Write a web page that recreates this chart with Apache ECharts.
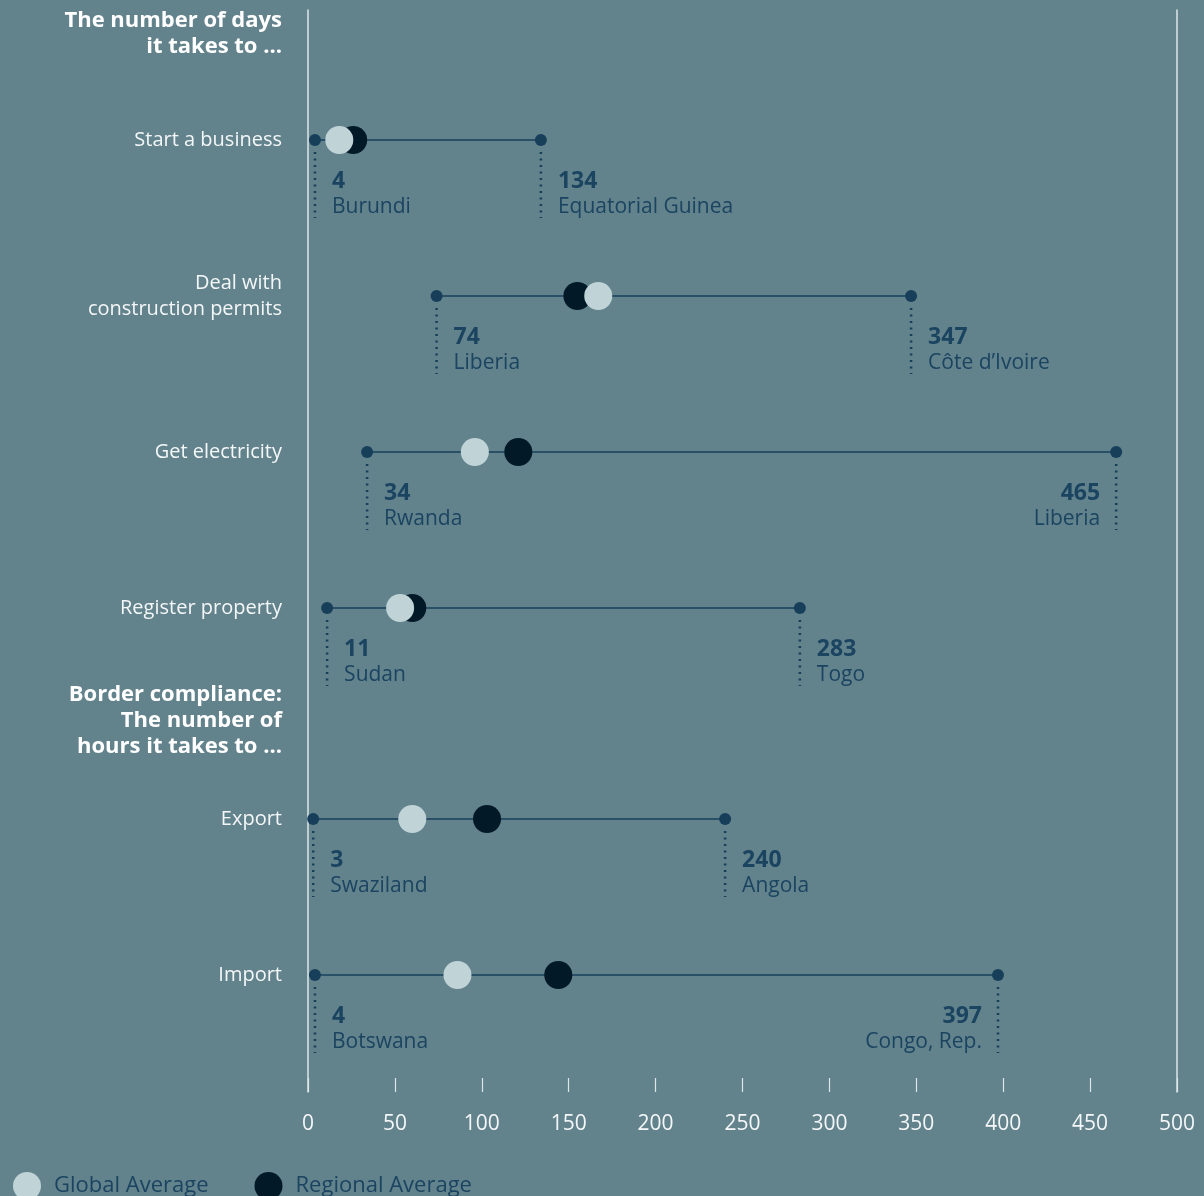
<!DOCTYPE html>
<html>
<head>
<meta charset="utf-8">
<style>
  html, body { margin: 0; padding: 0; background: #62828c; }
  #chart { width: 1204px; height: 1196px; }
</style>
<script src="https://cdn.jsdelivr.net/npm/echarts@6/dist/echarts.min.js"></script>
</head>
<body>
<div id="chart"></div>
<script>
// days section
const dayTasks = ["Start a business", "Deal with\nconstruction permits", "Get electricity", "Register property"];
const dayMin = [4, 74, 34, 11];
const dayMinCountry = ["Burundi", "Liberia", "Rwanda", "Sudan"];
const dayMax = [134, 347, 465, 283];
const dayMaxCountry = ["Equatorial Guinea", "Côte d’Ivoire", "Liberia", "Togo"];
const dayGlobal = [18, 167, 96, 53];
const dayRegional = [26, 155, 121, 60];

// hours section
const hourTasks = ["Export", "Import"];
const hourMin = [3, 4];
const hourMinCountry = ["Swaziland", "Botswana"];
const hourMax = [240, 397];
const hourMaxCountry = ["Angola", "Congo, Rep."];
const hourGlobal = [60, 86];
const hourRegional = [103, 144];

const axisTicks = [0, 50, 100, 150, 200, 250, 300, 350, 400, 450, 500];

const BG = "#62828c";
const NAVY = "#173f5a";
const TEXT_DARK = "#1b4461";
const DARK = "#021a28";
const LIGHT = "#c0d4d8";
const RULE = "#dde6e9";
const FONT = "'Open Sans', Lato, sans-serif";

const chart = echarts.init(document.getElementById("chart"));

function rangeRenderer(minCountry, maxCountry) {
  return function (params, api) {
    const cat = api.value(2);
    const p0 = api.coord([api.value(0), cat]);
    const p1 = api.coord([api.value(1), cat]);
    const y = p0[1];
    const items = [
      {
        type: "line",
        shape: { x1: p0[0], y1: y, x2: p1[0], y2: y },
        style: { stroke: NAVY, lineWidth: 1.5 },
      },
    ];
    const ends = [
      { x: p0[0], v: api.value(0), name: minCountry[params.dataIndex] },
      { x: p1[0], v: api.value(1), name: maxCountry[params.dataIndex] },
    ];
    ends.forEach(function (e) {
      // labels near the right edge go on the left side
      const right = e.v > 380;
      const tx = right ? e.x - 16 : e.x + 17;
      const align = right ? "right" : "left";
      items.push({
        type: "line",
        shape: { x1: e.x, y1: y + 12, x2: e.x, y2: y + 78 },
        style: { stroke: NAVY, lineWidth: 2.5, lineDash: [2, 4.5] },
      });
      items.push({
        type: "circle",
        shape: { cx: e.x, cy: y, r: 6 },
        style: { fill: NAVY },
      });
      items.push({
        type: "text",
        x: tx,
        y: y + 41,
        style: {
          text: String(e.v),
          fill: TEXT_DARK,
          font: "bold 23px " + FONT,
          textAlign: align,
          textVerticalAlign: "middle",
        },
      });
      items.push({
        type: "text",
        x: tx,
        y: y + 67,
        style: {
          text: e.name,
          fill: TEXT_DARK,
          font: "21px " + FONT,
          textAlign: align,
          textVerticalAlign: "middle",
        },
      });
    });
    return { type: "group", children: items };
  };
}

function pairs(values) {
  return values.map(function (v, i) {
    return [v, i];
  });
}

function ranges(mins, maxs) {
  return mins.map(function (v, i) {
    return [v, maxs[i], i];
  });
}

const catAxisBase = {
  type: "category",
  inverse: true,
  axisLine: { show: false },
  axisTick: { show: false },
  splitLine: { show: false },
  axisLabel: {
    color: "#f4f7f8",
    fontSize: 20,
    lineHeight: 26,
    fontFamily: FONT,
    margin: 26,
    align: "right",
  },
};

const hiddenX = {
  type: "value",
  min: 0,
  max: 500,
  show: false,
};

const option = {
  backgroundColor: BG,
  animation: false,
  textStyle: { fontFamily: FONT },
  grid: [
    { left: 308, right: 27, top: 10, bottom: 104 },
    { left: 308, right: 27, top: 62, height: 624 },
    { left: 308, right: 27, top: 741, height: 312 },
  ],
  xAxis: [
    {
      type: "value",
      gridIndex: 0,
      min: axisTicks[0],
      max: axisTicks[axisTicks.length - 1],
      interval: 50,
      axisLine: { show: false },
      axisTick: { show: true, inside: true, length: 14, lineStyle: { color: RULE, width: 1.2 } },
      splitLine: { show: false },
      axisLabel: { color: "#f4f7f8", fontSize: 21, fontFamily: FONT, margin: 22 },
    },
    Object.assign({ gridIndex: 1 }, hiddenX),
    Object.assign({ gridIndex: 2 }, hiddenX),
  ],
  yAxis: [
    {
      type: "value",
      gridIndex: 0,
      position: "left",
      axisLine: { show: true, lineStyle: { color: RULE, width: 1.5 } },
      axisTick: { show: false },
      axisLabel: { show: false },
      splitLine: { show: false },
    },
    {
      type: "value",
      gridIndex: 0,
      position: "right",
      axisLine: { show: true, lineStyle: { color: RULE, width: 1.5 } },
      axisTick: { show: false },
      axisLabel: { show: false },
      splitLine: { show: false },
    },
    Object.assign({ gridIndex: 1, data: dayTasks }, catAxisBase),
    Object.assign({ gridIndex: 2, data: hourTasks }, catAxisBase),
  ],
  legend: {
    data: ["Global Average", "Regional Average"],
    left: 8,
    top: 1167,
    icon: "circle",
    itemWidth: 28,
    itemHeight: 28,
    itemGap: 46,
    textStyle: { color: TEXT_DARK, fontSize: 22, fontFamily: FONT, padding: [0, 0, 0, 8] },
  },
  graphic: [
    {
      type: "text",
      x: 282,
      y: 34,
      style: {
        text: "The number of days\nit takes to ...",
        fill: "#ffffff",
        font: "bold 22px " + FONT,
        lineHeight: 26,
        textAlign: "right",
        textVerticalAlign: "middle",
      },
    },
    {
      type: "text",
      x: 282,
      y: 721,
      style: {
        text: "Border compliance:\nThe number of\nhours it takes to ...",
        fill: "#ffffff",
        font: "bold 22px " + FONT,
        lineHeight: 26,
        textAlign: "right",
        textVerticalAlign: "middle",
      },
    },
  ],
  series: [
    {
      type: "custom",
      xAxisIndex: 1,
      yAxisIndex: 2,
      renderItem: rangeRenderer(dayMinCountry, dayMaxCountry),
      encode: { x: [0, 1], y: 2 },
      data: ranges(dayMin, dayMax),
      silent: true,
      z: 1,
    },
    {
      type: "custom",
      xAxisIndex: 2,
      yAxisIndex: 3,
      renderItem: rangeRenderer(hourMinCountry, hourMaxCountry),
      encode: { x: [0, 1], y: 2 },
      data: ranges(hourMin, hourMax),
      silent: true,
      z: 1,
    },
    {
      name: "Regional Average",
      type: "scatter",
      xAxisIndex: 1,
      yAxisIndex: 2,
      symbolSize: 28,
      itemStyle: { color: DARK, opacity: 1 },
      data: pairs(dayRegional),
      z: 2,
    },
    {
      name: "Regional Average",
      type: "scatter",
      xAxisIndex: 2,
      yAxisIndex: 3,
      symbolSize: 28,
      itemStyle: { color: DARK, opacity: 1 },
      data: pairs(hourRegional),
      z: 2,
    },
    {
      name: "Global Average",
      type: "scatter",
      xAxisIndex: 1,
      yAxisIndex: 2,
      symbolSize: 28,
      itemStyle: { color: LIGHT, opacity: 1 },
      data: pairs(dayGlobal),
      z: 3,
    },
    {
      name: "Global Average",
      type: "scatter",
      xAxisIndex: 2,
      yAxisIndex: 3,
      symbolSize: 28,
      itemStyle: { color: LIGHT, opacity: 1 },
      data: pairs(hourGlobal),
      z: 3,
    },
  ],
};

chart.setOption(option);
</script>
</body>
</html>
